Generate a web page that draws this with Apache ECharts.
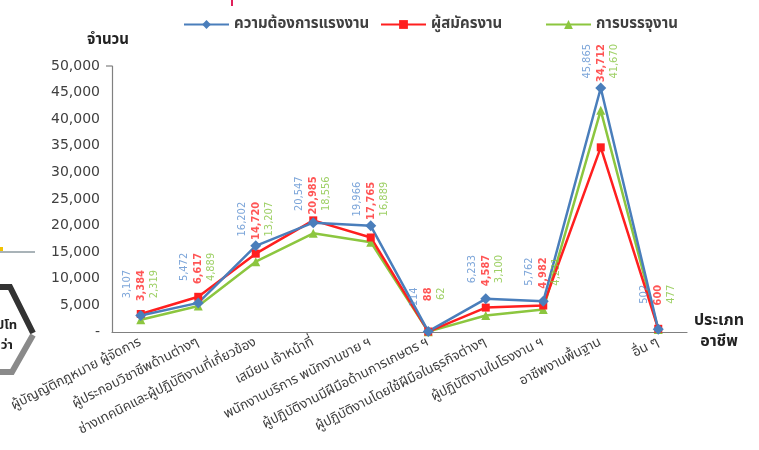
<!DOCTYPE html>
<html>
<head>
<meta charset="utf-8">
<script src="https://cdn.jsdelivr.net/npm/echarts@6/dist/echarts.min.js"></script>
<style>
html,body{margin:0;padding:0;background:#fff;}
#chart{width:759px;height:450px;}
</style>
</head>
<body>
<div id="chart"></div>
<script>
const categories = [
  'ผู้บัญญัติกฎหมาย ผู้จัดการ',
  'ผู้ประกอบวิชาชีพด้านต่างๆ',
  'ช่างเทคนิคและผู้ปฏิบัติงานที่เกี่ยวข้อง',
  'เสมียน เจ้าหน้าที่',
  'พนักงานบริการ พนักงานขาย ฯ',
  'ผู้ปฏิบัติงานมีฝีมือด้านการเกษตร ฯ',
  'ผู้ปฏิบัติงานโดยใช้ฝีมือในธุรกิจต่างๆ',
  'ผู้ปฏิบัติงานในโรงงาน ฯ',
  'อาชีพงานพื้นฐาน',
  'อื่น ๆ'
];
const seriesNames = ['ความต้องการแรงงาน', 'ผู้สมัครงาน', 'การบรรจุงาน'];
const demand     = [3107, 5472, 16202, 20547, 19966, 114, 6233, 5762, 45865, 502];
const applicants = [3384, 6617, 14720, 20985, 17765, 88, 4587, 4982, 34712, 600];
const placements = [2319, 4889, 13207, 18556, 16889, 62, 3100, 4231, 41670, 477];
const yMin = 0, yMax = 50000, yStep = 5000;
const yAxisTitle = 'จำนวน';
const xAxisTitle = 'ประเภท\nอาชีพ';

const FONT = "'Noto Sans Thai', Tahoma, 'DejaVu Sans', sans-serif";
const NUMFONT = "'DejaVu Sans', Tahoma, sans-serif";
const LABFONT = "'DejaVu Sans Condensed', 'DejaVu Sans', sans-serif";
const colors = ['#4a7ebb', '#ff1f1f', '#8cc63f'];
const labelColors = ['#5b8fd0', '#ff2a2a', '#86c440'];
const fmt = v => v.toLocaleString('en-US');

const allSeries = [demand, applicants, placements];
const labelBase = categories.map((_, i) => Math.max(demand[i], applicants[i], placements[i]));

const lineSeries = [
  {name: seriesNames[2], data: placements, symbol: 'triangle', symbolSize: 9, color: colors[2]},
  {name: seriesNames[1], data: applicants, symbol: 'rect', symbolSize: 8, color: colors[1]},
  {name: seriesNames[0], data: demand, symbol: 'diamond', symbolSize: 11, color: colors[0]}
].map(s => ({
  type: 'line', name: s.name, data: s.data, symbol: s.symbol, symbolSize: s.symbolSize,
  showAllSymbol: true,
  itemStyle: {color: s.color}, lineStyle: {color: s.color, width: 2.5},
  emphasis: {disabled: true}, animation: false
}));

const offsets = [-14, 0, 13];
const labelSeries = allSeries.map((arr, k) => ({
  type: 'scatter', name: 'lab' + k, data: labelBase, symbolSize: 0, silent: true, z: 5,
  animation: false,
  label: {
    show: true, position: 'top', distance: 44, rotate: 90,
    align: 'right', verticalAlign: 'middle', offset: [0, offsets[k]],
    formatter: p => fmt(arr[p.dataIndex]),
    color: labelColors[k], fontFamily: LABFONT, fontSize: 11,
    fontWeight: k === 1 ? 'bold' : 'normal'
  }
}));

const legendLefts = [178, 375, 540];
const legends = seriesNames.map((n, k) => ({
  data: [n], left: legendLefts[k], top: 12, itemWidth: 45, itemHeight: 11, itemGap: 10,
  textStyle: {fontFamily: FONT, fontSize: 15, color: '#404040', fontWeight: 'bold'}
}));

const chart = echarts.init(document.getElementById('chart'), null, {renderer: 'canvas'});
chart.setOption({
  backgroundColor: '#fff',
  animation: false,
  legend: legends,
  grid: {left: 112, right: 72, top: 66, bottom: 118, containLabel: false},
  xAxis: {
    type: 'category', data: categories, boundaryGap: true,
    name: xAxisTitle, nameLocation: 'end', nameGap: 32,
    nameTextStyle: {fontFamily: FONT, fontSize: 16, color: '#222', fontWeight: 'bold', align: 'center', lineHeight: 21},
    axisLine: {lineStyle: {color: '#808080', width: 1.2}},
    axisTick: {show: false},
    axisLabel: {interval: 0, rotate: 27, fontFamily: FONT, fontSize: 13.5, color: '#404040', margin: 10}
  },
  yAxis: {
    type: 'value', min: yMin, max: yMax, interval: yStep,
    name: yAxisTitle, nameLocation: 'end', nameGap: 18,
    nameTextStyle: {fontFamily: FONT, fontSize: 15, color: '#222', fontWeight: 'bold', align: 'center', padding: [0, 8, 0, 0]},
    axisLine: {show: true, lineStyle: {color: '#808080', width: 1.2}},
    axisTick: {show: false},
    splitLine: {show: false},
    axisLabel: {formatter: v => v === 0 ? '-' : fmt(v), fontFamily: NUMFONT, fontSize: 14, color: '#404040', margin: 12}
  },
  graphic: [
    {type: 'line', shape: {x1: 106, y1: 66, x2: 112, y2: 66}, style: {stroke: '#808080', lineWidth: 1.2}},
    {type: 'polyline', shape: {points: [[-2, 287], [10, 287], [33, 333]]}, style: {stroke: '#333', lineWidth: 6, fill: null}},
    {type: 'polyline', shape: {points: [[33, 335], [12, 372], [-2, 372]]}, style: {stroke: '#8a8a8a', lineWidth: 6, fill: null}},
    {type: 'line', shape: {x1: 0, y1: 252, x2: 35, y2: 252}, style: {stroke: '#a9b3b8', lineWidth: 2}},
    {type: 'line', shape: {x1: 0, y1: 249, x2: 3, y2: 249}, style: {stroke: '#f2c200', lineWidth: 4}},
    {type: 'line', shape: {x1: 232, y1: 0, x2: 232, y2: 6}, style: {stroke: '#e0205a', lineWidth: 2}},
    {type: 'text', left: -4, top: 320, style: {text: 'ปโท', font: 'bold 13px ' + FONT, fill: '#222'}},
    {type: 'text', left: -6, top: 340, style: {text: 'ว่ว่า', font: 'bold 13px ' + FONT, fill: '#222'}}
  ],
  series: lineSeries.concat(labelSeries)
});
</script>
</body>
</html>
